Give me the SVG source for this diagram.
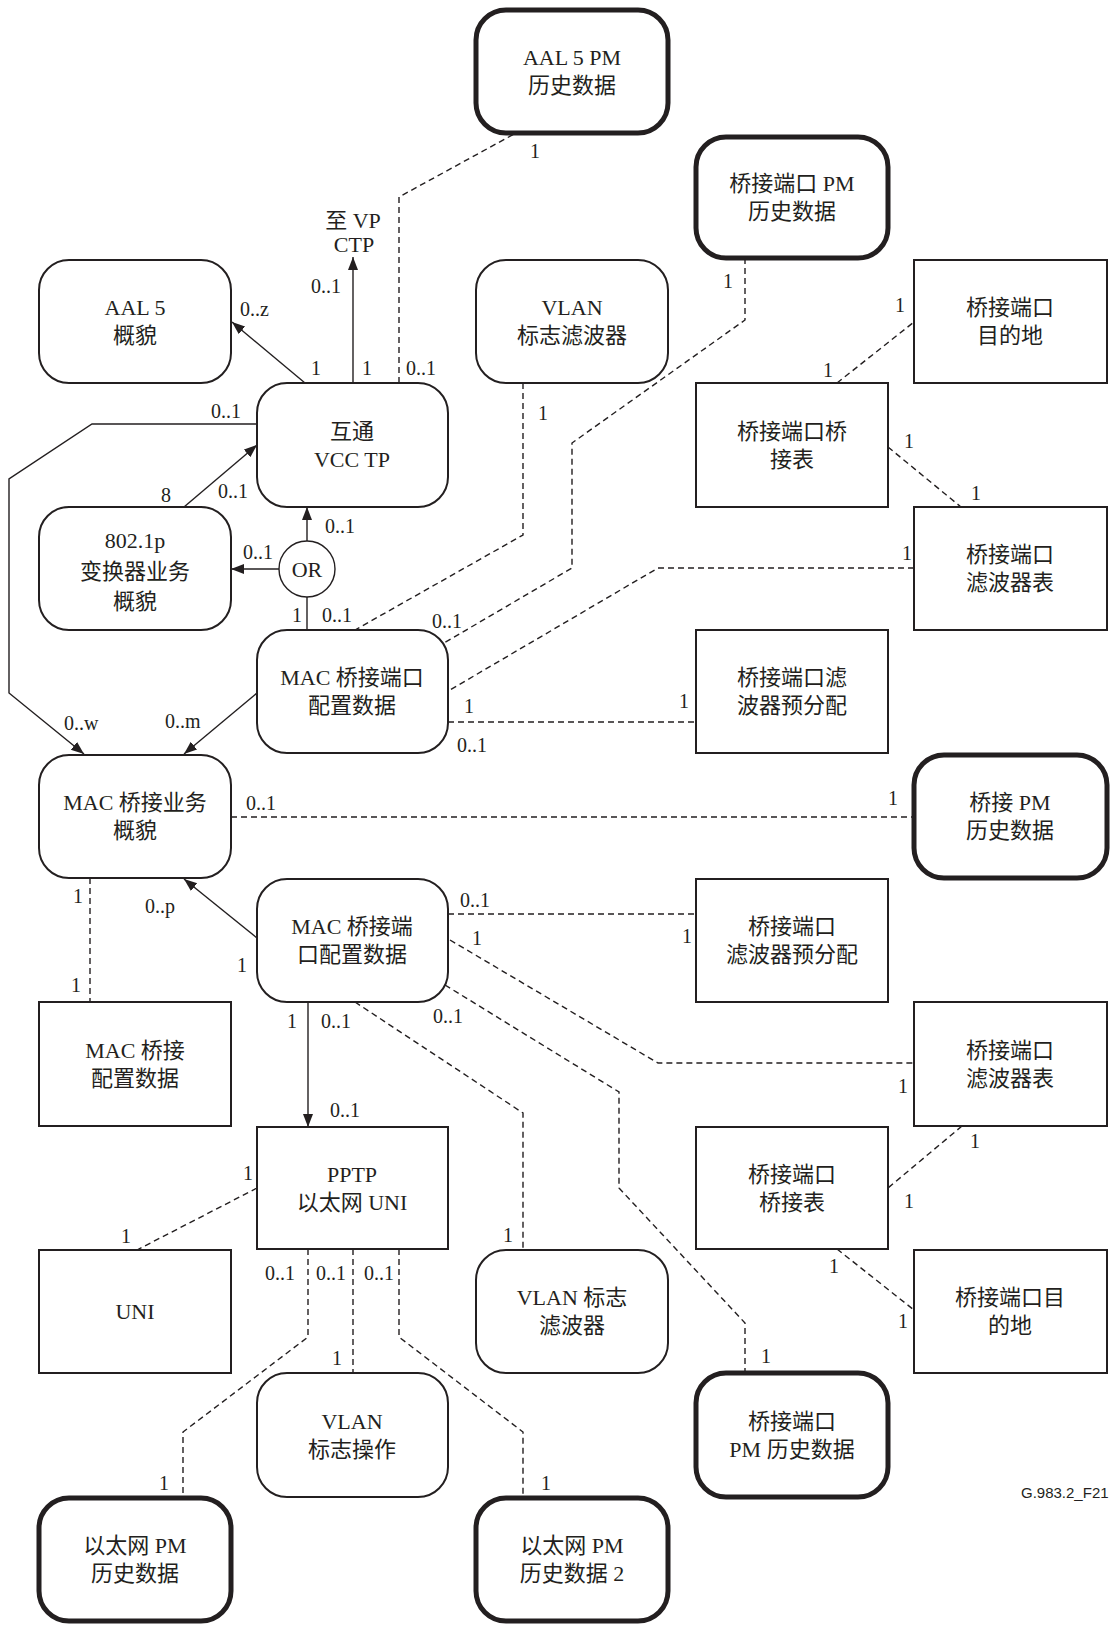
<svg xmlns="http://www.w3.org/2000/svg" width="1111" height="1625" viewBox="0 0 1111 1625">
<style>
text{font-family:'Liberation Serif','Noto Sans CJK SC',serif;fill:#231f20}
.t{font-size:22px;text-anchor:middle}
.l{font-size:20px}
.n{fill:#fff;stroke:#231f20;stroke-width:2}
.k{fill:#fff;stroke:#231f20;stroke-width:5}
.s{fill:none;stroke:#231f20;stroke-width:1.4}
.d{fill:none;stroke:#231f20;stroke-width:1.4;stroke-dasharray:6 4}
.a{marker-end:url(#ah)}
</style>
<defs>
<marker id="ah" markerUnits="userSpaceOnUse" markerWidth="14" markerHeight="12" refX="13" refY="5" orient="auto">
<path d="M0,0 L13,5 L0,10 z" fill="#231f20"/>
</marker>
</defs>
<rect width="1111" height="1625" fill="#fff"/>

<g id="connectors">
<path class="d" d="M399,383 V197 L516,133"/>
<path class="d" d="M523,383 V535 L355,630"/>
<path class="d" d="M745,258 V320 L572,443 V568 L444,643"/>
<path class="d" d="M914,568 H658 L450,690"/>
<path class="d" d="M448,722 H696"/>
<path class="d" d="M837,383 L914,322"/>
<path class="d" d="M888,447 L961,507"/>
<path class="d" d="M231,817 H914"/>
<path class="d" d="M90,878 V1002"/>
<path class="d" d="M448,914 H696"/>
<path class="d" d="M450,940 L658,1063 H914"/>
<path class="d" d="M445,985 L619,1092 V1188 L745,1323 V1373"/>
<path class="d" d="M355,1002 L523,1113 V1250"/>
<path class="d" d="M962,1126 L888,1188"/>
<path class="d" d="M837,1249 L914,1310"/>
<path class="d" d="M257,1188 L137,1250"/>
<path class="d" d="M308,1249 V1337 L183,1432 V1498"/>
<path class="d" d="M353,1249 V1373"/>
<path class="d" d="M399,1249 V1337 L523,1432 V1498"/>

<path class="s a" d="M305,383 L232,322"/>
<path class="s a" d="M353,383 V257"/>
<path class="s a" d="M257,424 H92 L9,479 V693 L84,754"/>
<path class="s a" d="M184,507 L257,445"/>
<path class="s a" d="M307,541 V507"/>
<path class="s a" d="M279,569 H231"/>
<path class="s" d="M307,630 V597"/>
<path class="s a" d="M257,693 L184,754"/>
<path class="s a" d="M257,938 L184,879"/>
<path class="s a" d="M308,1002 V1127"/>

<text class="l" x="311" y="375">1</text>
<text class="l" x="240" y="316">0..z</text>
<text class="l" x="311" y="293">0..1</text>
<text class="l" x="362" y="375">1</text>
<text class="l" x="406" y="375">0..1</text>
<text class="l" x="530" y="158">1</text>
<text class="t" x="353" y="228">至 VP</text>
<text class="t" x="354" y="252">CTP</text>
<text class="l" x="211" y="418">0..1</text>
<text class="l" x="161" y="502">8</text>
<text class="l" x="218" y="498">0..1</text>
<text class="l" x="325" y="533">0..1</text>
<text class="l" x="243" y="559">0..1</text>
<text class="l" x="292" y="622">1</text>
<text class="l" x="322" y="622">0..1</text>
<text class="l" x="432" y="628">0..1</text>
<text class="l" x="538" y="420">1</text>
<text class="l" x="723" y="288">1</text>
<text class="l" x="895" y="312">1</text>
<text class="l" x="823" y="377">1</text>
<text class="l" x="904" y="448">1</text>
<text class="l" x="971" y="500">1</text>
<text class="l" x="902" y="560">1</text>
<text class="l" x="464" y="713">1</text>
<text class="l" x="457" y="752">0..1</text>
<text class="l" x="679" y="708">1</text>
<text class="l" x="64" y="730">0..w</text>
<text class="l" x="165" y="728">0..m</text>
<text class="l" x="246" y="810">0..1</text>
<text class="l" x="888" y="805">1</text>
<text class="l" x="73" y="903">1</text>
<text class="l" x="71" y="992">1</text>
<text class="l" x="145" y="913">0..p</text>
<text class="l" x="237" y="972">1</text>
<text class="l" x="460" y="907">0..1</text>
<text class="l" x="682" y="943">1</text>
<text class="l" x="472" y="945">1</text>
<text class="l" x="433" y="1023">0..1</text>
<text class="l" x="287" y="1028">1</text>
<text class="l" x="321" y="1028">0..1</text>
<text class="l" x="330" y="1117">0..1</text>
<text class="l" x="898" y="1093">1</text>
<text class="l" x="970" y="1148">1</text>
<text class="l" x="904" y="1208">1</text>
<text class="l" x="829" y="1273">1</text>
<text class="l" x="898" y="1328">1</text>
<text class="l" x="503" y="1242">1</text>
<text class="l" x="243" y="1180">1</text>
<text class="l" x="121" y="1243">1</text>
<text class="l" x="265" y="1280">0..1</text>
<text class="l" x="316" y="1280">0..1</text>
<text class="l" x="364" y="1280">0..1</text>
<text class="l" x="332" y="1365">1</text>
<text class="l" x="159" y="1490">1</text>
<text class="l" x="541" y="1490">1</text>
<text class="l" x="761" y="1363">1</text>
</g>

<g id="aal5pm"><rect class="k" x="476" y="10" width="192" height="123" rx="30"/><text class="t" x="572" y="65">AAL 5 PM</text><text class="t" x="572" y="93">历史数据</text></g>
<g id="bppm1"><rect class="k" x="696" y="137" width="192" height="121" rx="30"/><text class="t" x="792" y="191">桥接端口 PM</text><text class="t" x="792" y="219">历史数据</text></g>
<g id="aal5prof"><rect class="n" x="39" y="260" width="192" height="123" rx="30"/><text class="t" x="135" y="315">AAL 5</text><text class="t" x="135" y="343">概貌</text></g>
<g id="vlanf1"><rect class="n" x="476" y="260" width="192" height="123" rx="30"/><text class="t" x="572" y="315">VLAN</text><text class="t" x="572" y="343">标志滤波器</text></g>
<g id="bpdest1"><rect class="n" x="914" y="260" width="193" height="123"/><text class="t" x="1010" y="315">桥接端口</text><text class="t" x="1010" y="343">目的地</text></g>
<g id="iwvcc"><rect class="n" x="257" y="383" width="191" height="124" rx="30"/><text class="t" x="352" y="439">互通</text><text class="t" x="352" y="467">VCC TP</text></g>
<g id="bpbt1"><rect class="n" x="696" y="383" width="192" height="124"/><text class="t" x="792" y="439">桥接端口桥</text><text class="t" x="792" y="467">接表</text></g>
<g id="p8021"><rect class="n" x="39" y="507" width="192" height="123" rx="30"/><text class="t" x="135" y="548">802.1p</text><text class="t" x="135" y="579">变换器业务</text><text class="t" x="135" y="609">概貌</text></g>
<g id="or"><circle class="n" cx="307" cy="569" r="28" style="stroke-width:1.4"/><text class="t" x="307" y="577">OR</text></g>
<g id="bpft1"><rect class="n" x="914" y="507" width="193" height="123"/><text class="t" x="1010" y="562">桥接端口</text><text class="t" x="1010" y="590">滤波器表</text></g>
<g id="macbpc1"><rect class="n" x="257" y="630" width="191" height="123" rx="30"/><text class="t" x="352" y="685">MAC 桥接端口</text><text class="t" x="352" y="713">配置数据</text></g>
<g id="bpfp1"><rect class="n" x="696" y="630" width="192" height="123"/><text class="t" x="792" y="685">桥接端口滤</text><text class="t" x="792" y="713">波器预分配</text></g>
<g id="macbsp"><rect class="n" x="39" y="755" width="192" height="123" rx="30"/><text class="t" x="135" y="810">MAC 桥接业务</text><text class="t" x="135" y="838">概貌</text></g>
<g id="bpm"><rect class="k" x="914" y="755" width="193" height="123" rx="30"/><text class="t" x="1010" y="810">桥接 PM</text><text class="t" x="1010" y="838">历史数据</text></g>
<g id="macbpc2"><rect class="n" x="257" y="879" width="191" height="123" rx="30"/><text class="t" x="352" y="934">MAC 桥接端</text><text class="t" x="352" y="962">口配置数据</text></g>
<g id="bpfp2"><rect class="n" x="696" y="879" width="192" height="123"/><text class="t" x="792" y="934">桥接端口</text><text class="t" x="792" y="962">滤波器预分配</text></g>
<g id="macbcd"><rect class="n" x="39" y="1002" width="192" height="124"/><text class="t" x="135" y="1058">MAC 桥接</text><text class="t" x="135" y="1086">配置数据</text></g>
<g id="bpft2"><rect class="n" x="914" y="1002" width="193" height="124"/><text class="t" x="1010" y="1058">桥接端口</text><text class="t" x="1010" y="1086">滤波器表</text></g>
<g id="pptp"><rect class="n" x="257" y="1127" width="191" height="122"/><text class="t" x="352" y="1182">PPTP</text><text class="t" x="352" y="1210">以太网 UNI</text></g>
<g id="bpbt2"><rect class="n" x="696" y="1127" width="192" height="122"/><text class="t" x="792" y="1182">桥接端口</text><text class="t" x="792" y="1210">桥接表</text></g>
<g id="uni"><rect class="n" x="39" y="1250" width="192" height="123"/><text class="t" x="135" y="1319">UNI</text></g>
<g id="vlanf2"><rect class="n" x="476" y="1250" width="192" height="123" rx="30"/><text class="t" x="572" y="1305">VLAN 标志</text><text class="t" x="572" y="1333">滤波器</text></g>
<g id="bpdest2"><rect class="n" x="914" y="1250" width="193" height="123"/><text class="t" x="1010" y="1305">桥接端口目</text><text class="t" x="1010" y="1333">的地</text></g>
<g id="vlanop"><rect class="n" x="257" y="1373" width="191" height="124" rx="30"/><text class="t" x="352" y="1429">VLAN</text><text class="t" x="352" y="1457">标志操作</text></g>
<g id="bppm2"><rect class="k" x="696" y="1373" width="192" height="124" rx="30"/><text class="t" x="792" y="1429">桥接端口</text><text class="t" x="792" y="1457">PM 历史数据</text></g>
<g id="ethpm"><rect class="k" x="39" y="1498" width="192" height="123" rx="30"/><text class="t" x="135" y="1553">以太网 PM</text><text class="t" x="135" y="1581">历史数据</text></g>
<g id="ethpm2"><rect class="k" x="476" y="1498" width="192" height="123" rx="30"/><text class="t" x="572" y="1553">以太网 PM</text><text class="t" x="572" y="1581">历史数据 2</text></g>
<text x="1021" y="1498" style="font-family:'Liberation Sans',sans-serif;font-size:15px">G.983.2_F21</text>
</svg>
